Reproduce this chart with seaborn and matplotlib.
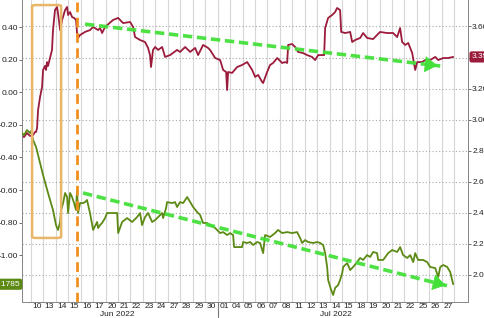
import numpy as np
import pandas as pd
import matplotlib
matplotlib.use("Agg")
import matplotlib.pyplot as plt
import seaborn as sns
from matplotlib.patches import FancyBboxPatch
from matplotlib.transforms import blended_transform_factory

# ---------------- data ----------------
day_labels = ['10', '13', '14', '15', '16', '17', '20', '21', '22', '23', '24', '27', '28', '29', '30',
              '01', '04', '05', '06', '07', '08', '11', '12', '13', '14', '15', '18', '19', '20', '21',
              '22', '25', '26', '27']
month_labels = ['Jun 2022', 'Jul 2022']
month_pos = [6.9, 24.5]

left_ticks = [0.40, 0.20, 0.00, -0.20, -0.40, -0.60, -0.80, -1.00]
right_ticks = [3.60, 3.40, 3.20, 3.00, 2.80, 2.60, 2.40, 2.20, 2.00]

# red series (right axis), time in trading-day units from Jun 10
red_t = [-0.79, -0.55, -0.31, -0.06, 0.18, 0.34, 0.42, 0.50, 0.58, 0.74, 0.90, 0.98, 1.14, 1.22, 1.30,
         1.38, 1.54, 1.70, 1.78, 1.94, 2.10, 2.18, 2.35, 2.51, 2.75, 2.91, 2.99, 3.15, 3.31, 3.47,
         3.63, 3.71, 3.79, 3.95, 4.35, 4.75, 5.00, 5.40, 5.56, 5.72, 5.96, 6.60, 7.01, 7.41, 7.97,
         8.21, 8.37, 8.77, 9.17, 9.41, 9.57, 9.65, 9.81, 9.98, 10.22, 10.54, 10.78, 11.18, 11.74,
         11.98, 12.39, 12.79, 13.19, 13.43, 13.83, 14.23, 14.39, 14.80, 15.20, 15.44, 15.68, 15.76,
         15.84, 16.16, 16.56, 16.96, 17.37, 17.77, 18.01, 18.25, 18.57, 18.65, 18.97, 19.21, 19.45,
         19.78, 20.18, 20.42, 20.58, 20.66, 20.98, 21.22, 21.46, 21.86, 22.18, 22.58, 22.83, 23.07,
         23.39, 23.55, 23.63, 23.87, 24.19, 24.43, 24.59, 24.83, 24.92, 25.24, 25.64, 25.80, 26.04,
         26.44, 26.68, 27.00, 27.48, 28.04, 28.60, 29.09, 29.41, 29.65, 29.81, 30.06, 30.30, 30.62,
         30.86, 31.02, 31.42, 31.66, 32.06, 32.47, 32.71, 33.11, 33.51, 33.91]
red_v = [2.901, 2.888, 2.914, 2.895, 2.901, 2.921, 2.921, 2.946, 3.062, 3.146, 3.210, 3.320, 3.346, 3.320, 3.371,
         3.346, 3.397, 3.449, 3.577, 3.706, 3.726, 3.687, 3.577, 3.642, 3.706, 3.726, 3.674, 3.693, 3.661, 3.655,
         3.642, 3.558, 3.526, 3.545, 3.565, 3.577, 3.597, 3.577, 3.590, 3.558, 3.597, 3.642, 3.655, 3.622, 3.629,
         3.597, 3.532, 3.513, 3.500, 3.462, 3.416, 3.339, 3.449, 3.468, 3.449, 3.468, 3.404, 3.416, 3.449,
         3.436, 3.468, 3.436, 3.462, 3.416, 3.481, 3.462, 3.449, 3.397, 3.384, 3.320, 3.307, 3.191,
         3.307, 3.301, 3.339, 3.352, 3.371, 3.320, 3.275, 3.288, 3.243, 3.236, 3.307, 3.352, 3.365,
         3.397, 3.365, 3.371, 3.365, 3.481, 3.487, 3.468, 3.436, 3.429, 3.416, 3.404, 3.384, 3.416,
         3.416, 3.416, 3.590, 3.655, 3.674, 3.693, 3.719, 3.706, 3.565, 3.558, 3.565, 3.500, 3.513,
         3.526, 3.558, 3.526, 3.519, 3.565, 3.558, 3.558, 3.532, 3.590, 3.500, 3.481, 3.494, 3.429,
         3.320, 3.371, 3.371, 3.384, 3.384, 3.404, 3.384, 3.397, 3.397, 3.404]

# green series (left axis)
green_t = [-0.79, -0.55, -0.31, -0.06, 0.02, 0.18, 0.42, 0.74, 0.98, 1.38, 1.78, 2.02, 2.18, 2.35, 2.43,
           2.59, 2.75, 2.91, 2.99, 3.15, 3.31, 3.47, 3.63, 3.71, 3.79, 3.95, 4.19, 4.35, 4.51, 4.75,
           5.00, 5.32, 5.40, 5.56, 5.72, 5.96, 6.12, 6.93, 7.01, 7.33, 7.73, 8.13, 8.53, 8.77, 8.93,
           9.17, 9.41, 9.74, 9.98, 10.22, 10.54, 10.62, 10.86, 10.94, 11.34, 11.58, 11.74, 11.98, 12.23,
           12.55, 12.79, 13.03, 13.35, 13.59, 13.83, 14.15, 14.39, 14.80, 15.20, 15.44, 15.76, 16.00,
           16.24, 16.32, 16.96, 17.04, 17.37, 17.61, 17.85, 18.17, 18.41, 18.65, 18.81, 19.21, 19.61,
           19.85, 20.18, 20.58, 20.98, 21.38, 21.62, 21.78, 22.02, 22.26, 22.67, 22.99, 23.23, 23.47,
           23.63, 23.79, 23.87, 24.11, 24.27, 24.43, 24.67, 24.83, 25.00, 25.08, 25.40, 25.64, 25.88,
           26.20, 26.44, 26.68, 27.00, 27.24, 27.48, 27.80, 27.89, 28.29, 28.69, 29.01, 29.41, 29.65,
           29.89, 30.22, 30.46, 30.70, 30.86, 31.10, 31.50, 31.82, 32.06, 32.47, 32.71, 32.87, 33.11,
           33.43, 33.67, 33.91]
green_v = [-0.244, -0.263, -0.232, -0.250, -0.238, -0.293, -0.336, -0.434, -0.508, -0.618, -0.723, -0.815, -0.845, -0.796, -0.723,
           -0.680, -0.618, -0.643, -0.741, -0.618, -0.643, -0.680, -0.723, -0.600, -0.741, -0.680, -0.680, -0.674, -0.661, -0.741,
           -0.845, -0.796, -0.833, -0.815, -0.802, -0.772, -0.741, -0.741, -0.864, -0.796, -0.772, -0.796, -0.766, -0.741, -0.815,
           -0.766, -0.741, -0.796, -0.784, -0.766, -0.741, -0.772, -0.710, -0.674, -0.680, -0.674, -0.704, -0.674, -0.680,
           -0.643, -0.674, -0.704, -0.735, -0.753, -0.802, -0.802, -0.815, -0.833, -0.864, -0.858, -0.876, -0.864,
           -0.876, -0.950, -0.950, -0.919, -0.925, -0.919, -0.937, -0.919, -0.925, -0.987, -0.876, -0.888, -0.864,
           -0.845, -0.864, -0.858, -0.864, -0.858, -0.894, -0.925, -0.907, -0.919, -0.925, -0.919, -0.925, -0.937,
           -0.987, -1.072, -1.152, -1.213, -1.244, -1.201, -1.183, -1.152, -1.109, -1.072, -1.048, -1.091, -1.072,
           -1.042, -1.017, -1.029, -0.999, -1.011, -0.980, -0.987, -1.029, -1.029, -0.987, -0.968, -0.980, -0.950,
           -0.999, -1.017, -0.999, -1.042, -0.987, -1.029, -1.029, -1.042, -1.072, -1.079, -1.134, -1.072, -1.060,
           -1.072, -1.103, -1.178]

green_last_label = '-1.1785'
red_last_label = '3.3974'

# annotation anchors (data coords of left axis)
fomc_t = 3.71
box_t = [0.10, 2.43]
box_v = [-0.894, 0.535]
arrow_up = [(4.35, 0.418), (32.87, 0.161)]
arrow_dn = [(4.19, -0.618), (33.51, -1.189)]

# ---------------- style ----------------
sns.set_theme(style="white")
plt.rcParams['font.family'] = ['Liberation Sans', 'DejaVu Sans']
plt.rcParams['axes.unicode_minus'] = False

RED = '#9b1b3b'
GREEN = '#5c8a14'
ARROW = '#43e03a'
ORANGE = '#f0901e'
BOX = '#e9b566'
FS = 6

fig = plt.figure(figsize=(4.85, 3.18), dpi=100)
ax = fig.add_axes([22 / 485, 16 / 318, (468 - 22) / 485, 302 / 318])
ax2 = ax.twinx()

ax.set_xlim(-0.71, 35.1)
ax.set_ylim(-1.287, 0.566)
ax2.set_ylim(1.826, 3.7706)

# grids
for t in range(0, 35):
    ax2.axvline(t, color='#d6d6d6', lw=0.8, zorder=0)
for v in right_ticks:
    ax2.axhline(v, color='#a8a8a8', lw=0.8, ls=(0, (1, 2)), zorder=0)

df_red = pd.DataFrame({'t': red_t, 'v': red_v})
df_green = pd.DataFrame({'t': green_t, 'v': green_v})
sns.lineplot(data=df_red, x='t', y='v', ax=ax2, color=RED, lw=1.3, estimator=None, sort=False, zorder=3)
sns.lineplot(data=df_green, x='t', y='v', ax=ax, color=GREEN, lw=1.3, estimator=None, sort=False, zorder=3)

ax.set_zorder(ax2.get_zorder() + 1)
ax.patch.set_visible(False)

# y ticks (the 3.40 label sits under the last-value tag)
ax.set_yticks(left_ticks)
ax.set_yticklabels([f'{v:.2f}' for v in left_ticks], fontsize=FS, color='#222222')
ax2.set_yticks(right_ticks)
ax2.set_yticklabels(['' if abs(v - 3.40) < 1e-9 else f'{v:.2f}' for v in right_ticks],
                    fontsize=FS, color='#222222')
ax.tick_params(axis='y', length=2, width=0.6, pad=1, colors='#555555', labelcolor='#222222')
ax2.tick_params(axis='y', length=2, width=0.6, pad=1, colors='#555555', labelcolor='#222222')

# x ticks
ax.set_xticks(range(0, 35))
ax.set_xticklabels([])
ax.set_xticks([i + 0.5 for i in range(len(day_labels))], minor=True)
ax.set_xticklabels(day_labels, minor=True, fontsize=FS, color='#222222')
ax.tick_params(axis='x', which='major', length=2, width=0.6, colors='#777777')
ax.tick_params(axis='x', which='minor', length=0, pad=1.0)
ax.set_xlabel('')
ax.set_ylabel('')
ax2.set_ylabel('')

trans = blended_transform_factory(ax.transData, ax.transAxes)
for name, p in zip(month_labels, month_pos):
    ax.text(p, -0.029, name, transform=trans, ha='center', va='top', fontsize=FS, color='#222222')
ax.plot([15, 15], [0, -0.05], transform=trans, color='#777777', lw=0.8, clip_on=False)

for a in (ax, ax2):
    for s in a.spines.values():
        s.set_color('#888888')
        s.set_linewidth(0.7)
    a.spines['top'].set_visible(False)

# orange FOMC line
ax.axvline(fomc_t, color=ORANGE, lw=2.0, ls=(0, (3.5, 2)), zorder=4)

# box
box = FancyBboxPatch((box_t[0], box_v[0]), box_t[1] - box_t[0], box_v[1] - box_v[0],
                     boxstyle='round,pad=0,rounding_size=0.35', mutation_aspect=0.35 * 0.05,
                     fill=False, ec=BOX, lw=1.8, zorder=5)
ax.add_patch(box)

# dashed green arrows
for (p0, p1) in (arrow_up, arrow_dn):
    ax.plot([p0[0], p1[0]], [p0[1], p1[1]], color=ARROW, lw=2.6, ls=(0, (2.6, 1.3)),
            solid_capstyle='butt', zorder=6, alpha=0.95)
    dx = p1[0] - p0[0]
    dy = p1[1] - p0[1]
    ax.annotate('', xy=p1, xytext=(p1[0] - dx * 0.035, p1[1] - dy * 0.035),
                arrowprops=dict(arrowstyle='-|>,head_length=0.7,head_width=0.45',
                                color=ARROW, lw=0.5), zorder=6)

# last-value labels
ax.text(-0.004, green_v[-1], green_last_label, transform=blended_transform_factory(ax.transAxes, ax.transData),
        ha='right', va='center', fontsize=FS, color='white', clip_on=False,
        bbox=dict(boxstyle='round,pad=0.25', fc=GREEN, ec='none'))
ax2.text(1.008, red_v[-1], red_last_label, transform=blended_transform_factory(ax2.transAxes, ax2.transData),
         ha='left', va='center', fontsize=FS, color='white', clip_on=False,
         bbox=dict(boxstyle='round,pad=0.25', fc=RED, ec='none'))

fig.savefig('out.png', dpi=100)
